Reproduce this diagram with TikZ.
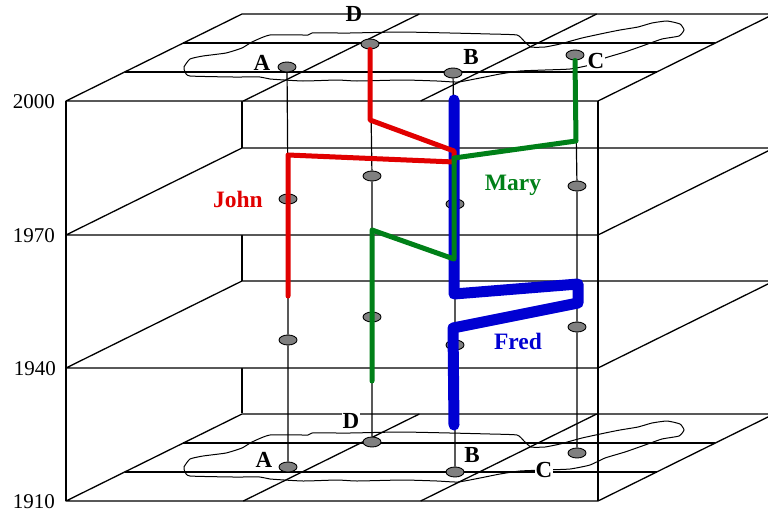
\documentclass[tikz,border=0pt]{standalone}
\usepackage{fontspec}
\setmainfont{Liberation Serif}
\usetikzlibrary{shapes.geometric}
\definecolor{johnred}{RGB}{225,0,0}
\definecolor{marygreen}{RGB}{0,128,24}
\definecolor{fredblue}{RGB}{0,0,210}

\begin{document}
\begin{tikzpicture}[
  x=1pt, y=-1pt,
  boxline/.style={draw, line width=1.3pt, line join=round},
  plane/.style={boxline, fill=white},
  coast/.style={draw, line width=1pt},
  pole/.style={draw, line width=1.2pt},
  site/.style={draw, ellipse, fill=gray, line width=0.9pt, minimum width=18pt,
               minimum height=10pt, inner sep=0pt},
  lbl/.style={font=\fontsize{23}{23}\selectfont\bfseries, inner sep=1pt},
  year/.style={font=\fontsize{21}{21}\selectfont, anchor=east, inner sep=0pt},
  who/.style={font=\fontsize{23.5}{24}\selectfont\bfseries},
  track/.style={line width=5pt, line cap=round, line join=round}
]
\clip (0,0) rectangle (768,514);

% box: back edge, time planes, front edges
\draw[boxline] (242,14) -- (242,413);
\foreach \yy in {101,235,368,501}
  \filldraw[plane] (66,\yy) -- ++(532,0) -- ++(176,-87) -- ++(-532,0) -- cycle;
\foreach \yy in {101,501}
  \foreach \s in {1,2} {
    \draw[boxline] ({66+58.67*\s},{\yy-29*\s}) -- ++(532,0);
    \draw[boxline] ({66+177.33*\s},\yy) -- ++(176,-87);
  }
\foreach \dy in {0,400}
  \draw[coast, shift={(0,\dy)}] plot[smooth cycle, tension=0.3] coordinates {
    (184,67) (190,59) (203,56) (226,53) (242,48) (252,42) (270,35) (308,35)
    (312,33) (350,33) (400,32) (450,33) (490,34) (517,35) (524,41) (531,47)
    (545,47) (560,44) (582,38) (605,33) (620,30) (638,27) (652,23) (667,21)
    (680,24) (684,30) (679,36) (662,39) (645,45) (625,52) (605,58) (590,65)
    (570,69) (545,70) (520,71) (500,74) (480,78) (458,82) (437,81) (403,80)
    (357,81) (337,80) (303,81) (270,79) (260,77) (233,77) (190,76) (185,72)};
\draw[boxline] (66,101) -- (66,501);
\draw[boxline] (598,101) -- (598,501);

% years
\node[year] (y2000) at (55,102) {2000};
\node[year] (y1970) at (55,236) {1970};
\node[year] (y1940) at (56,369) {1940};
\node[year] (y1910) at (55,502) {1910};

% places through time
\node[site] (A1) at (287,67) {};
\node[site] (A2) at (288,199) {};
\node[site] (A3) at (288,340) {};
\node[site] (A4) at (288,467) {};
\node[site] (D1) at (370,44) {};
\node[site] (D2) at (372,176) {};
\node[site] (D3) at (372,317) {};
\node[site] (D4) at (372,442) {};
\node[site] (B1) at (453,73) {};
\node[site] (B2) at (455,204) {};
\node[site] (B3) at (455,345) {};
\node[site] (B4) at (455,472) {};
\node[site] (C1) at (575,55) {};
\node[site] (C2) at (577,186) {};
\node[site] (C3) at (577,327) {};
\node[site] (C4) at (577,453) {};
\foreach \p in {A,D,B,C}
  \draw[pole] (\p1) -- (\p2) (\p2) -- (\p3) (\p3) -- (\p4);

% life paths
\draw[track, fredblue, line width=11pt] (454,100) -- (454,294) -- (578,284)
  -- (578,303) -- (453,328) -- (454,425);
\draw[track, johnred] (D1.south) -- (370,120) -- (454,151) -- (454,162)
  -- (288,155) -- (288,296);
\draw[track, marygreen] (C1.south) -- (576,141) -- (454,158) -- (454,259)
  -- (372,230) -- (372,381);

\node[lbl] (lA1) at (262,63) {A};
\node[lbl] (lD1) at (354,14) {D};
\node[lbl] (lB1) at (471,57) {B};
\node[lbl, fill=white] (lC1) at (596,61) {C};
\node[lbl] (lA4) at (264,460) {A};
\node[lbl, fill=white] (lD4) at (351,421) {D};
\node[lbl] (lB4) at (472,455) {B};
\node[lbl, fill=white] (lC4) at (544,470) {C};

\node[who, text=johnred] (john) at (238,199) {John};
\node[who, text=marygreen] (mary) at (513,185) {Mary};
\node[who, text=fredblue] (fred) at (518,341) {Fred};
\end{tikzpicture}
\end{document}
